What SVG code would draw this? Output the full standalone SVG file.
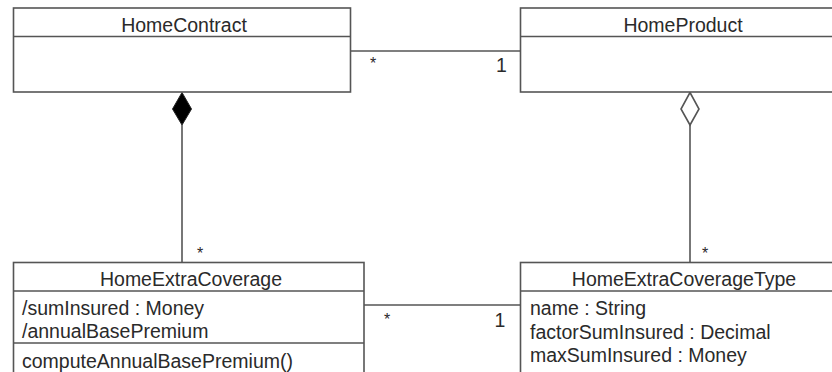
<svg xmlns="http://www.w3.org/2000/svg" width="832" height="372" viewBox="0 0 832 372">
<style>
.box{fill:#fff;stroke:#555;stroke-width:1.6}
.ln{fill:none;stroke:#555;stroke-width:1.6}
text{font-family:"Liberation Sans",Arial,sans-serif;font-size:19.5px;fill:#2a2a2a}
.c{text-anchor:middle}
.s{font-size:16px}
</style>
<rect width="832" height="372" fill="#fff"/>
<g id="connectors">
<line class="ln" x1="350.5" y1="51" x2="520.5" y2="51"/>
<line class="ln" x1="364" y1="305" x2="520.5" y2="305"/>
<line class="ln" x1="182" y1="125" x2="182" y2="262.5"/>
<polygon points="182,92.5 191.5,109 182,125 172.5,109" fill="#000" stroke="#222" stroke-width="1"/>
<line class="ln" x1="690" y1="125" x2="690" y2="262.5"/>
<polygon points="690,92.5 699,109 690,125 681,109" fill="#fff" stroke="#555" stroke-width="1.6"/>
<text x="373" y="69" class="c s">*</text>
<text x="501.5" y="72" class="c">1</text>
<text x="200" y="259" class="c s">*</text>
<text x="705" y="259" class="c s">*</text>
<text x="387" y="325" class="c s">*</text>
<text x="500" y="327" class="c">1</text>
</g>
<g id="HomeContract">
<rect class="box" x="13.5" y="8" width="337" height="84"/>
<line class="ln" x1="13.5" y1="36.5" x2="350.5" y2="36.5"/>
<text x="184" y="32" class="c">HomeContract</text>
</g>
<g id="HomeProduct">
<rect class="box" x="520.5" y="8" width="330" height="84"/>
<line class="ln" x1="520.5" y1="36.5" x2="850" y2="36.5"/>
<text x="683" y="32" class="c">HomeProduct</text>
</g>
<g id="HomeExtraCoverage">
<rect class="box" x="13.5" y="262.5" width="350.5" height="130"/>
<line class="ln" x1="13.5" y1="291" x2="364" y2="291"/>
<line class="ln" x1="13.5" y1="343" x2="364" y2="343"/>
<text x="191" y="286" class="c">HomeExtraCoverage</text>
<text x="22" y="315">/sumInsured : Money</text>
<text x="22" y="338">/annualBasePremium</text>
<text x="22" y="368">computeAnnualBasePremium()</text>
</g>
<g id="HomeExtraCoverageType">
<rect class="box" x="520.5" y="262.5" width="330" height="130"/>
<line class="ln" x1="520.5" y1="291" x2="850" y2="291"/>
<text x="684" y="286" class="c">HomeExtraCoverageType</text>
<text x="530" y="315">name : String</text>
<text x="530" y="338.5">factorSumInsured : Decimal</text>
<text x="530" y="362">maxSumInsured : Money</text>
</g>
</svg>
